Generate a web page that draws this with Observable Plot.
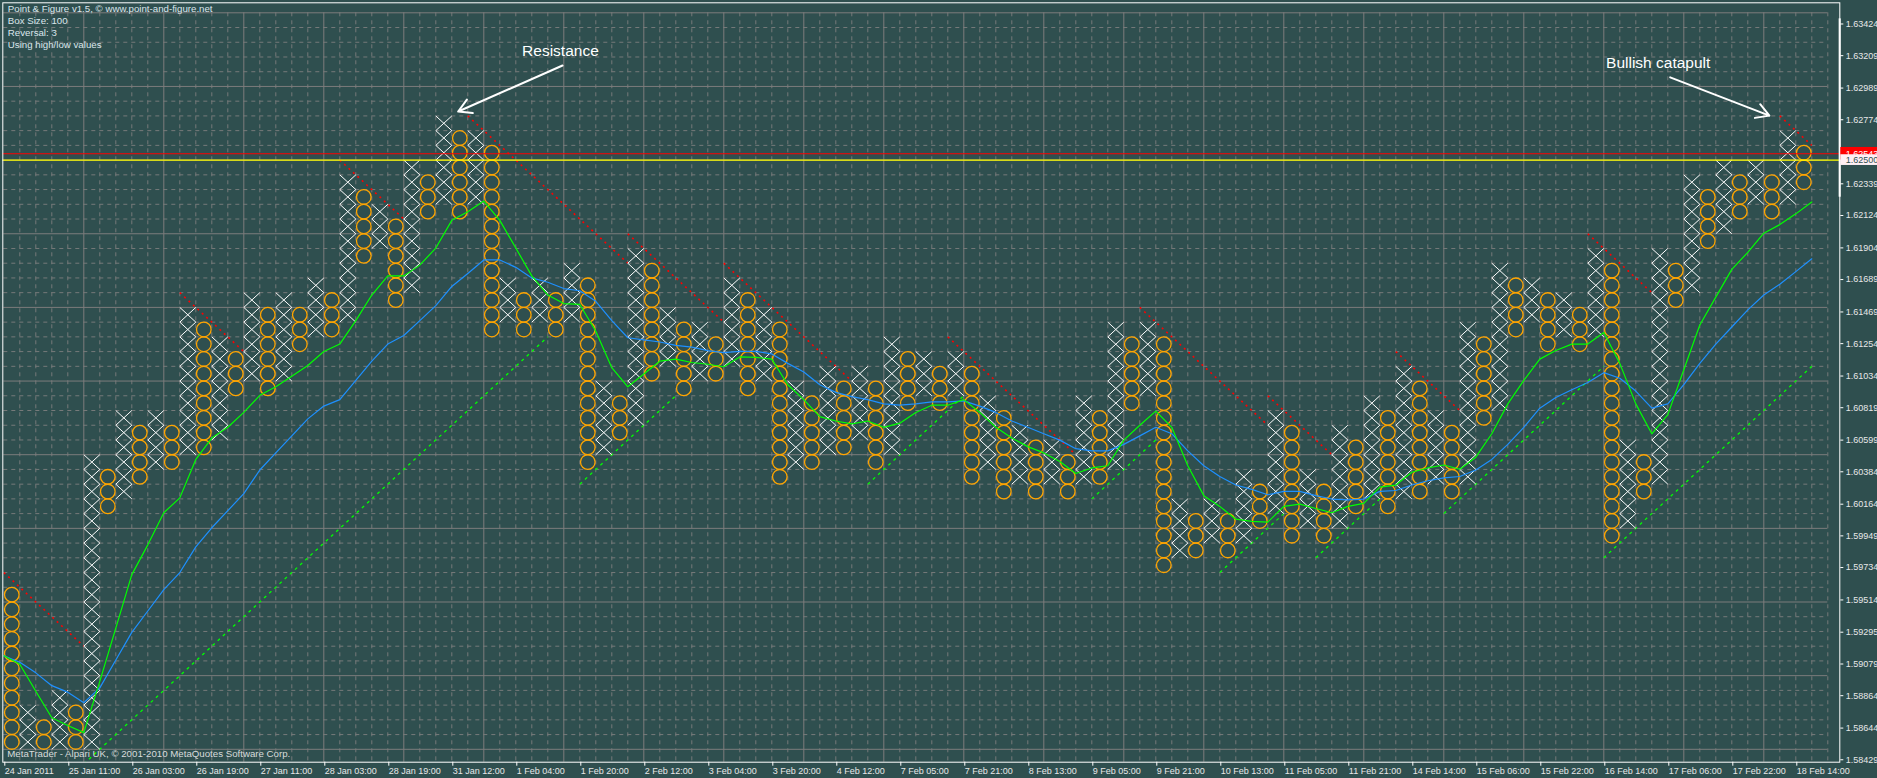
<!DOCTYPE html>
<html>
<head>
<meta charset="utf-8">
<script src="https://cdn.jsdelivr.net/npm/d3@7"></script>
<script src="https://cdn.jsdelivr.net/npm/@observablehq/plot@0.6"></script>
<style>
  html, body { margin: 0; padding: 0; background: #2F4F4F; }
  #chart svg { display: block; }
</style>
</head>
<body>
<div id="chart"></div>
<script>
// ---------------- DATA ----------------
const boxSize = 0.001;

// Point & Figure columns (box edges, prices)
const colType = ["O","X","O","X","O","X","O","X","O","X",
                 "O","X","O","X","O","X","O","X","O","X",
                 "O","X","O","X","O","X","O","X","O","X",
                 "O","X","O","X","O","X","O","X","O","X",
                 "O","X","O","X","O","X","O","X","O","X",
                 "O","X","O","X","O","X","O","X","O","X",
                 "O","X","O","X","O","X","O","X","O","X",
                 "O","X","O","X","O","X","O","X","O","X",
                 "O","X","O","X","O","X","O","X","O","X",
                 "O","X","O","X","O","X","O","X","O","X",
                 "O","X","O","X","O","X","O","X","O","X",
                 "O","X","O"];
const colLow = [1.585,1.585,1.585,1.585,1.585,1.585,1.601,1.602,1.603,1.604,
                1.604,1.605,1.605,1.606,1.609,1.610,1.609,1.610,1.612,1.613,
                1.613,1.614,1.618,1.619,1.615,1.616,1.621,1.622,1.621,1.622,
                1.613,1.614,1.613,1.614,1.613,1.614,1.604,1.605,1.606,1.607,
                1.610,1.611,1.609,1.610,1.610,1.611,1.609,1.610,1.603,1.604,
                1.604,1.605,1.605,1.606,1.604,1.605,1.608,1.609,1.608,1.609,
                1.603,1.604,1.602,1.603,1.602,1.603,1.602,1.603,1.603,1.604,
                1.608,1.609,1.597,1.598,1.598,1.599,1.598,1.599,1.600,1.601,
                1.599,1.600,1.599,1.600,1.601,1.602,1.601,1.602,1.602,1.603,
                1.602,1.603,1.607,1.608,1.613,1.614,1.612,1.613,1.612,1.613,
                1.599,1.600,1.602,1.603,1.615,1.616,1.619,1.620,1.621,1.622,
                1.621,1.622,1.623];
const colHigh = [1.596,1.588,1.587,1.589,1.588,1.605,1.604,1.608,1.607,1.608,
                 1.607,1.615,1.614,1.613,1.612,1.616,1.615,1.616,1.615,1.617,
                 1.616,1.624,1.623,1.622,1.621,1.625,1.624,1.628,1.627,1.627,
                 1.626,1.617,1.616,1.617,1.616,1.618,1.617,1.610,1.609,1.619,
                 1.618,1.615,1.614,1.614,1.613,1.617,1.616,1.615,1.614,1.610,
                 1.609,1.611,1.610,1.611,1.610,1.613,1.612,1.612,1.611,1.612,
                 1.611,1.609,1.608,1.607,1.606,1.606,1.605,1.609,1.608,1.614,
                 1.613,1.614,1.613,1.602,1.601,1.602,1.601,1.604,1.603,1.608,
                 1.607,1.604,1.603,1.607,1.606,1.609,1.608,1.611,1.610,1.608,
                 1.607,1.614,1.613,1.618,1.617,1.617,1.616,1.616,1.615,1.619,
                 1.618,1.606,1.605,1.619,1.618,1.624,1.623,1.625,1.624,1.625,
                 1.624,1.627,1.626];

// Moving averages, one value per column boundary (0..113)
const maFast = [1.59135,1.59077,1.58894,1.58714,1.58662,1.58613,1.58961,1.59323,1.59686,1.59888,
  1.60106,1.60207,1.60468,1.60613,1.60686,1.60787,1.60903,1.60961,1.61033,1.61106,
  1.61201,1.61251,1.61410,1.61584,1.61714,1.61714,1.61787,1.61903,1.62091,1.62150,
  1.62222,1.62091,1.61903,1.61714,1.61584,1.61526,1.61520,1.61338,1.61091,1.60961,
  1.61048,1.61135,1.61149,1.61126,1.61114,1.61097,1.61164,1.61161,1.61149,1.60975,
  1.60874,1.60758,1.60729,1.60709,1.60729,1.60686,1.60714,1.60787,1.60836,1.60836,
  1.60874,1.60787,1.60686,1.60613,1.60555,1.60512,1.60454,1.60372,1.60410,1.60425,
  1.60599,1.60700,1.60796,1.60686,1.60425,1.60222,1.60149,1.60062,1.60048,1.60042,
  1.60149,1.60164,1.60135,1.60106,1.60149,1.60170,1.60280,1.60294,1.60381,1.60410,
  1.60430,1.60401,1.60483,1.60642,1.60845,1.61004,1.61149,1.61207,1.61251,1.61251,
  1.61329,1.61120,1.60845,1.60642,1.60772,1.61077,1.61381,1.61570,1.61758,1.61874,
  1.62004,1.62062,1.62135,1.62216];
const maSlow = [1.59135,1.59091,1.59019,1.58932,1.58888,1.58816,1.58917,1.59106,1.59294,1.59439,
  1.59584,1.59700,1.59874,1.60004,1.60120,1.60236,1.60396,1.60512,1.60628,1.60743,
  1.60830,1.60874,1.61004,1.61135,1.61251,1.61309,1.61410,1.61512,1.61642,1.61730,
  1.61822,1.61822,1.61772,1.61700,1.61671,1.61628,1.61613,1.61541,1.61410,1.61294,
  1.61280,1.61265,1.61242,1.61230,1.61207,1.61193,1.61201,1.61201,1.61184,1.61120,
  1.61062,1.60975,1.60923,1.60894,1.60874,1.60845,1.60836,1.60845,1.60859,1.60859,
  1.60865,1.60830,1.60787,1.60729,1.60686,1.60642,1.60599,1.60541,1.60526,1.60526,
  1.60570,1.60628,1.60686,1.60642,1.60526,1.60425,1.60352,1.60294,1.60265,1.60228,
  1.60251,1.60251,1.60222,1.60199,1.60193,1.60199,1.60251,1.60257,1.60294,1.60323,
  1.60343,1.60352,1.60396,1.60468,1.60570,1.60686,1.60816,1.60888,1.60941,1.60990,
  1.61057,1.61019,1.60932,1.60816,1.60845,1.60975,1.61120,1.61251,1.61367,1.61483,
  1.61584,1.61657,1.61743,1.61830];

// Bearish resistance lines (red dotted): [col1, price1, col2, price2]
const resistLines = [
  [0,1.597,5,1.592],[11,1.616,15,1.612],[21,1.625,25,1.621],[29,1.628,39,1.618],
  [39,1.620,45,1.614],[45,1.618,53,1.610],[59,1.613,67,1.605],[71,1.615,79,1.607],
  [79,1.609,83,1.605],[87,1.612,91,1.608],[99,1.620,103,1.616],[111,1.628,113,1.626]
];
// Bullish support lines (green dashed)
const supportLines = [
  [5,1.584,34,1.613],[36,1.603,42,1.609],[54,1.603,60,1.609],[68,1.602,72,1.606],
  [76,1.597,80,1.601],[82,1.598,86,1.602],[90,1.601,100,1.611],[100,1.598,113,1.611]
];

// Axis labels
const xTickCols = d3.range(0, 113, 4);
const xTickLabels = ["24 Jan 2011","25 Jan 11:00","26 Jan 03:00","26 Jan 19:00","27 Jan 11:00",
  "28 Jan 03:00","28 Jan 19:00","31 Jan 12:00","1 Feb 04:00","1 Feb 20:00","2 Feb 12:00",
  "3 Feb 04:00","3 Feb 20:00","4 Feb 12:00","7 Feb 05:00","7 Feb 21:00","8 Feb 13:00",
  "9 Feb 05:00","9 Feb 21:00","10 Feb 13:00","11 Feb 05:00","11 Feb 21:00","14 Feb 14:00",
  "15 Feb 06:00","15 Feb 22:00","16 Feb 14:00","17 Feb 06:00","17 Feb 22:00","18 Feb 14:00"];
const yTickValues = [1.63424,1.63209,1.62989,1.62774,1.62339,1.62124,1.61904,1.61689,1.61469,
  1.61254,1.61034,1.60819,1.60599,1.60384,1.60164,1.59949,1.59734,1.59514,1.59295,1.59079,
  1.58864,1.58644,1.58429];

// Price markers on the right scale
const bidPrice = 1.62543;
const levelPrice = 1.62500;

const infoLines = ["Point & Figure v1.5, \u00a9 www.point-and-figure.net","Box Size: 100","Reversal: 3","Using high/low values"];
const copyright = "MetaTrader - Alpari UK, \u00a9 2001-2010 MetaQuotes Software Corp.";

const annotations = [
  {text:"Resistance", tx:34.79, ty:1.63242, x1:34.92, y1:1.63142, x2:28.40, y2:1.62830},
  {text:"Bullish catapult", tx:103.4, ty:1.63161, x1:104.15, y1:1.63062, x2:110.35, y2:1.62802}
];

// ---------------- DERIVED TABLES ----------------
const boxes = [];
colType.forEach((t, i) => {
  const n = Math.round((colHigh[i] - colLow[i]) / boxSize);
  for (let j = 0; j < n; j++) {
    const lo = colLow[i] + j * boxSize;
    boxes.push({col: i, type: t, lo, hi: lo + boxSize});
  }
});
const xs = boxes.filter(d => d.type === "X");
const os = boxes.filter(d => d.type === "O");
const fastPts = maFast.map((v, k) => ({k, v}));
const slowPts = maSlow.map((v, k) => ({k, v}));
const toSeg = a => ({x1: a[0], y1: a[1], x2: a[2], y2: a[3]});

const nCols = 114;
const gridTop = 1.635, gridBottom = 1.585;
const vGrid = d3.range(0, nCols + 1);
const hGrid = d3.range(0, 51).map(i => +(gridBottom + i * boxSize).toFixed(3));

// ---------------- LAYOUT ----------------
const W = 1877, H = 778;
const frameL = 2.3, frameR = 1839.3, frameT = 2.3, frameB = 761.7;
const colPx = 16, gridLeftPx = 3.3, boxPx = 14.73, gridTopPx = 12.3;
const xDomain = [(frameL - gridLeftPx) / colPx, (frameR - gridLeftPx) / colPx];
const yDomain = [gridTop - (frameB - gridTopPx) / boxPx * boxSize, gridTop + (gridTopPx - frameT) / boxPx * boxSize];
const pxToCol = px => (px - gridLeftPx) / colPx;
const halfLabel = 6.3 / boxPx * boxSize;

const font = "Liberation Sans, Arial, sans-serif";
const gridColor = "#7c7c7c";
const dashColor = "#767a7a";

const chart = Plot.plot({
  width: W, height: H,
  marginLeft: frameL, marginRight: W - frameR, marginTop: frameT, marginBottom: H - frameB,
  x: {domain: xDomain, axis: null},
  y: {domain: yDomain, axis: null},
  style: {background: "#2F4F4F", color: "#e8e8e8", fontFamily: font},
  marks: [
    // grid
    Plot.ruleX(vGrid.filter(k => k % 5 !== 0), {x: d => d, y1: gridTop, y2: yDomain[0], stroke: dashColor, strokeWidth: 1, strokeDasharray: "4,4"}),
    Plot.ruleY(hGrid.filter((p, i) => i % 5 !== 0), {y: d => d, x1: 0, x2: nCols, stroke: dashColor, strokeWidth: 1, strokeDasharray: "4,4"}),
    Plot.ruleX(vGrid.filter(k => k % 5 === 0 && k > 0), {x: d => d, y1: gridTop, y2: yDomain[0], stroke: gridColor, strokeWidth: 1}),
    Plot.ruleY(hGrid.filter((p, i) => i % 5 === 0), {y: d => d, x1: 0, x2: nCols, stroke: gridColor, strokeWidth: 1}),
    // trend lines
    Plot.link(supportLines.map(toSeg), {x1: "x1", y1: "y1", x2: "x2", y2: "y2", stroke: "#00ff00", strokeWidth: 1.3, strokeDasharray: "3,4", clip: true}),
    Plot.link(resistLines.map(toSeg), {x1: "x1", y1: "y1", x2: "x2", y2: "y2", stroke: "#ff0000", strokeWidth: 1.6, strokeDasharray: "2,4", clip: true}),
    // X boxes
    Plot.link(xs, {x1: d => d.col, y1: "lo", x2: d => d.col + 1, y2: "hi", stroke: "#ffffff", strokeWidth: 1}),
    Plot.link(xs, {x1: d => d.col, y1: "hi", x2: d => d.col + 1, y2: "lo", stroke: "#ffffff", strokeWidth: 1}),
    // O boxes
    Plot.dot(os, {x: d => d.col + 0.5, y: d => (d.lo + d.hi) / 2, r: 7.3, stroke: "#ffa500", strokeWidth: 1.3, fill: "none"}),
    // moving averages
    Plot.line(slowPts, {x: "k", y: "v", stroke: "#1e90ff", strokeWidth: 1.2}),
    Plot.line(fastPts, {x: "k", y: "v", stroke: "#00ff00", strokeWidth: 1.2}),
    // horizontal price lines
    Plot.ruleY([bidPrice], {x1: xDomain[0], x2: xDomain[1], stroke: "#ff0000", strokeWidth: 1.2}),
    Plot.ruleY([levelPrice], {x1: xDomain[0], x2: xDomain[1], stroke: "#ffff00", strokeWidth: 1.4}),
    // frame
    Plot.frame({stroke: "#ffffff", strokeWidth: 1}),
    // axes
    Plot.axisY(yTickValues, {anchor: "right", tickSize: 3, tickPadding: 3, tickFormat: d => d.toFixed(5), fontSize: 9, fill: "#e8e8e8", stroke: "#ffffff"}),
    Plot.axisX(xTickCols, {anchor: "bottom", tickSize: 4, tickPadding: 1, textAnchor: "start", dx: 1, tickFormat: d => xTickLabels[xTickCols.indexOf(d)], fontSize: 9, fill: "#e8e8e8", stroke: "#ffffff"}),
    // scroll marker on the price axis
    Plot.rect([0], {x1: xDomain[1] - 0.04, x2: xDomain[1] + 0.09, y1: 1.62248, y2: 1.63459, fill: "#ffffff"}),
    // price labels
    Plot.rect([bidPrice], {x1: pxToCol(frameR + 1), x2: pxToCol(W), y1: d => d - halfLabel, y2: d => d + halfLabel, fill: "#ff0000"}),
    Plot.text([bidPrice], {x: pxToCol(frameR + 6), y: d => d, text: d => d.toFixed(5), textAnchor: "start", fontSize: 9, fill: "#ffffff"}),
    Plot.rect([levelPrice], {x1: pxToCol(frameR + 1), x2: pxToCol(W), y1: d => d - halfLabel * 0.85, y2: d => d + halfLabel * 0.85, fill: "#fff0f5"}),
    Plot.text([levelPrice], {x: pxToCol(frameR + 6), y: d => d, text: d => d.toFixed(5), textAnchor: "start", fontSize: 9, fill: "#2f4f4f"}),
    // info texts
    Plot.text([infoLines.join("\n")], {frameAnchor: "top-left", dx: 5, dy: 0.5, lineAnchor: "top", textAnchor: "start", lineHeight: 1.25, fontSize: 9.7, fill: "#dbe6ec"}),
    Plot.text([copyright], {frameAnchor: "bottom-left", dx: 4.5, dy: -8.4, lineAnchor: "middle", textAnchor: "start", fontSize: 9.7, fill: "#d8dcdc"}),
    // annotations
    Plot.arrow(annotations, {x1: "x1", y1: "y1", x2: "x2", y2: "y2", stroke: "#ffffff", strokeWidth: 2, headLength: 11}),
    Plot.text(annotations, {x: "tx", y: "ty", text: "text", fontSize: 15.5, fill: "#ffffff"})
  ]
});
document.getElementById("chart").appendChild(chart);
</script>
</body>
</html>
